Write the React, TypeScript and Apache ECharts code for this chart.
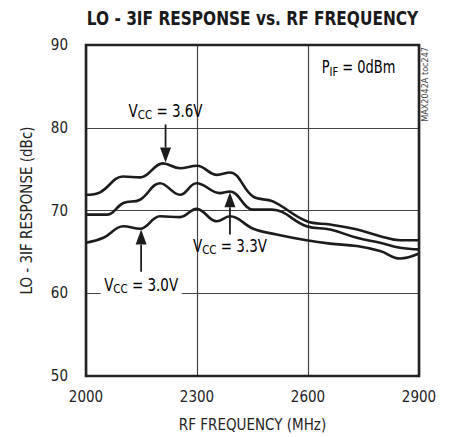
import React, { useEffect, useRef } from "react";
import * as echarts from "echarts";

const FONT = '"Liberation Sans Narrow", "Arial Narrow", "DejaVu Sans Condensed", "Roboto Condensed", sans-serif';

const TITLE = "LO - 3IF RESPONSE vs. RF FREQUENCY";
const X_NAME = "RF FREQUENCY (MHz)";
const Y_NAME = "LO - 3IF RESPONSE (dBc)";
const SIDE_NOTE = "MAX2042A toc247";

const freq36 = [2000, 2038, 2100, 2146, 2208, 2254, 2300, 2354, 2389, 2451, 2505, 2597, 2660, 2733, 2795, 2849, 2900];
const resp36 = [71.9, 72.2, 74.1, 74.0, 75.7, 75.1, 75.4, 74.3, 74.6, 71.7, 71.1, 68.7, 68.3, 67.7, 66.9, 66.4, 66.4];

const freq33 = [2000, 2056, 2101, 2146, 2200, 2254, 2299, 2362, 2389, 2452, 2502, 2596, 2660, 2732, 2795, 2849, 2900];
const resp33 = [69.5, 69.5, 70.9, 71.3, 73.3, 71.9, 73.3, 72.1, 72.3, 70.1, 70.1, 68.1, 67.7, 66.7, 66.1, 65.5, 65.3];

const freq30 = [2000, 2047, 2101, 2146, 2200, 2254, 2299, 2353, 2389, 2452, 2515, 2596, 2660, 2732, 2795, 2849, 2900];
const resp30 = [66.1, 66.7, 68.1, 67.8, 69.3, 69.2, 70.2, 68.7, 69.3, 67.8, 67.1, 66.4, 66.0, 65.7, 65.1, 64.2, 64.8];

// annotations: label value, arrow x, arrow tip y, arrow tail y (data units)
const annLabels = ["3.6V", "3.3V", "3.0V"];
const annX = [2215, 2389, 2149];
const annTip = [75.8, 72.2, 67.7];
const annTail = [80.4, 67.1, 62.6];

const pifPos = [2637, 88.3];

const LINE_COLOR = "#1c1c1c";

export default function App() {
  const ref = useRef<HTMLDivElement>(null);
  useEffect(() => {
    document.body.style.margin = "0";
    const chart = echarts.init(ref.current!, null, { renderer: "svg" });
    const mk = (xs: number[], ys: number[]) => xs.map((x, i) => [x, ys[i]]);
    const seriesBase = {
      type: "line",
      smooth: 0.4,
      showSymbol: false,
      symbol: "none",
      lineStyle: { color: LINE_COLOR, width: 2.6 },
      z: 5,
    };
    chart.setOption({
      animation: false,
      grid: {
        left: 86,
        right: 31,
        top: 45,
        bottom: 60,
        show: true,
        borderColor: "#222",
        borderWidth: 2.6,
        z: 10,
      },
      xAxis: {
        type: "value",
        min: 2000,
        max: 2900,
        interval: 300,
        name: X_NAME,
        nameLocation: "middle",
        nameGap: 41,
        nameTextStyle: { fontFamily: FONT, fontSize: 15, color: "#222" },
        axisLine: { show: false },
        axisTick: { show: false },
        axisLabel: { fontFamily: FONT, fontSize: 15, color: "#222", margin: 13, formatter: (v: number) => String(v) },
        splitLine: { show: true, lineStyle: { color: "#444", width: 1.2 } },
      },
      yAxis: {
        type: "value",
        min: 50,
        max: 90,
        interval: 10,
        name: Y_NAME,
        nameLocation: "middle",
        nameGap: 52,
        nameTextStyle: { fontFamily: FONT, fontSize: 15, color: "#222" },
        axisLine: { show: false },
        axisTick: { show: false },
        axisLabel: { fontFamily: FONT, fontSize: 15, color: "#222", margin: 18 },
        splitLine: { show: true, lineStyle: { color: "#444", width: 1.2 } },
      },
      series: [
        { ...seriesBase, name: "VCC = 3.6V", data: mk(freq36, resp36) },
        { ...seriesBase, name: "VCC = 3.3V", data: mk(freq33, resp33) },
        { ...seriesBase, name: "VCC = 3.0V", data: mk(freq30, resp30) },
      ],
    });

    const px = (x: number, y: number) => chart.convertToPixel({ gridIndex: 0 }, [x, y]) as number[];
    const rich = {
      n: { fontFamily: FONT, fontSize: 17, color: "#222", lineHeight: 20, verticalAlign: "top" },
      s: { fontFamily: FONT, fontSize: 13, color: "#222", lineHeight: 20, verticalAlign: "top", padding: [6, 0, 0, 0] },
    };
    const graphics: any[] = [];
    annLabels.forEach((lab, i) => {
      const tip = px(annX[i], annTip[i]);
      const tail = px(annX[i], annTail[i]);
      const down = tail[1] < tip[1];
      const headLen = 15;
      const headW = 5.5;
      const baseY = down ? tip[1] - headLen : tip[1] + headLen;
      graphics.push({
        type: "line",
        shape: { x1: tail[0], y1: tail[1], x2: tip[0], y2: baseY },
        style: { stroke: LINE_COLOR, lineWidth: 1.8 },
        z: 20,
      });
      graphics.push({
        type: "polygon",
        shape: { points: [[tip[0], tip[1]], [tip[0] - headW, baseY], [tip[0] + headW, baseY]] },
        style: { fill: LINE_COLOR },
        z: 20,
      });
      const isWhite = i === 2;
      graphics.push({
        type: "text",
        x: tail[0],
        y: down ? tail[1] - 2 : tail[1] + (isWhite ? 5 : 3),
        scaleX: 0.88,
        z: 20,
        style: {
          text: `{n|V}{s|CC}{n| = ${lab}}`,
          rich,
          align: "center",
          verticalAlign: down ? "bottom" : "top",
          backgroundColor: isWhite ? "#fff" : undefined,
          padding: isWhite ? [0, 4, 0, 4] : 0,
        },
      });
    });
    const pp = px(pifPos[0], pifPos[1]);
    graphics.push({
      type: "text",
      x: pp[0],
      y: pp[1],
      scaleX: 0.85,
      z: 20,
      style: { text: "{n|P}{s|IF}{n| = 0dBm}", rich, align: "left", verticalAlign: "top" },
    });
    const left = px(2000, 90);
    const right = px(2900, 90);
    graphics.push({
      type: "text",
      x: (left[0] + right[0]) / 2,
      y: 9,
      scaleX: 0.9,
      style: {
        text: TITLE,
        fontFamily: FONT,
        fontWeight: "bold",
        fontSize: 19,
        fill: "#1a1a1a",
        align: "center",
        verticalAlign: "top",
      },
    });
    graphics.push({
      type: "text",
      x: right[0] + 6,
      y: left[1] + 2,
      rotation: Math.PI / 2,
      style: {
        text: SIDE_NOTE,
        fontFamily: FONT,
        fontSize: 9,
        fill: "#444",
        align: "right",
        verticalAlign: "middle",
      },
    });
    chart.setOption({ graphic: graphics });
    return () => chart.dispose();
  }, []);
  return <div ref={ref} style={{ width: 450, height: 437 }} />;
}
